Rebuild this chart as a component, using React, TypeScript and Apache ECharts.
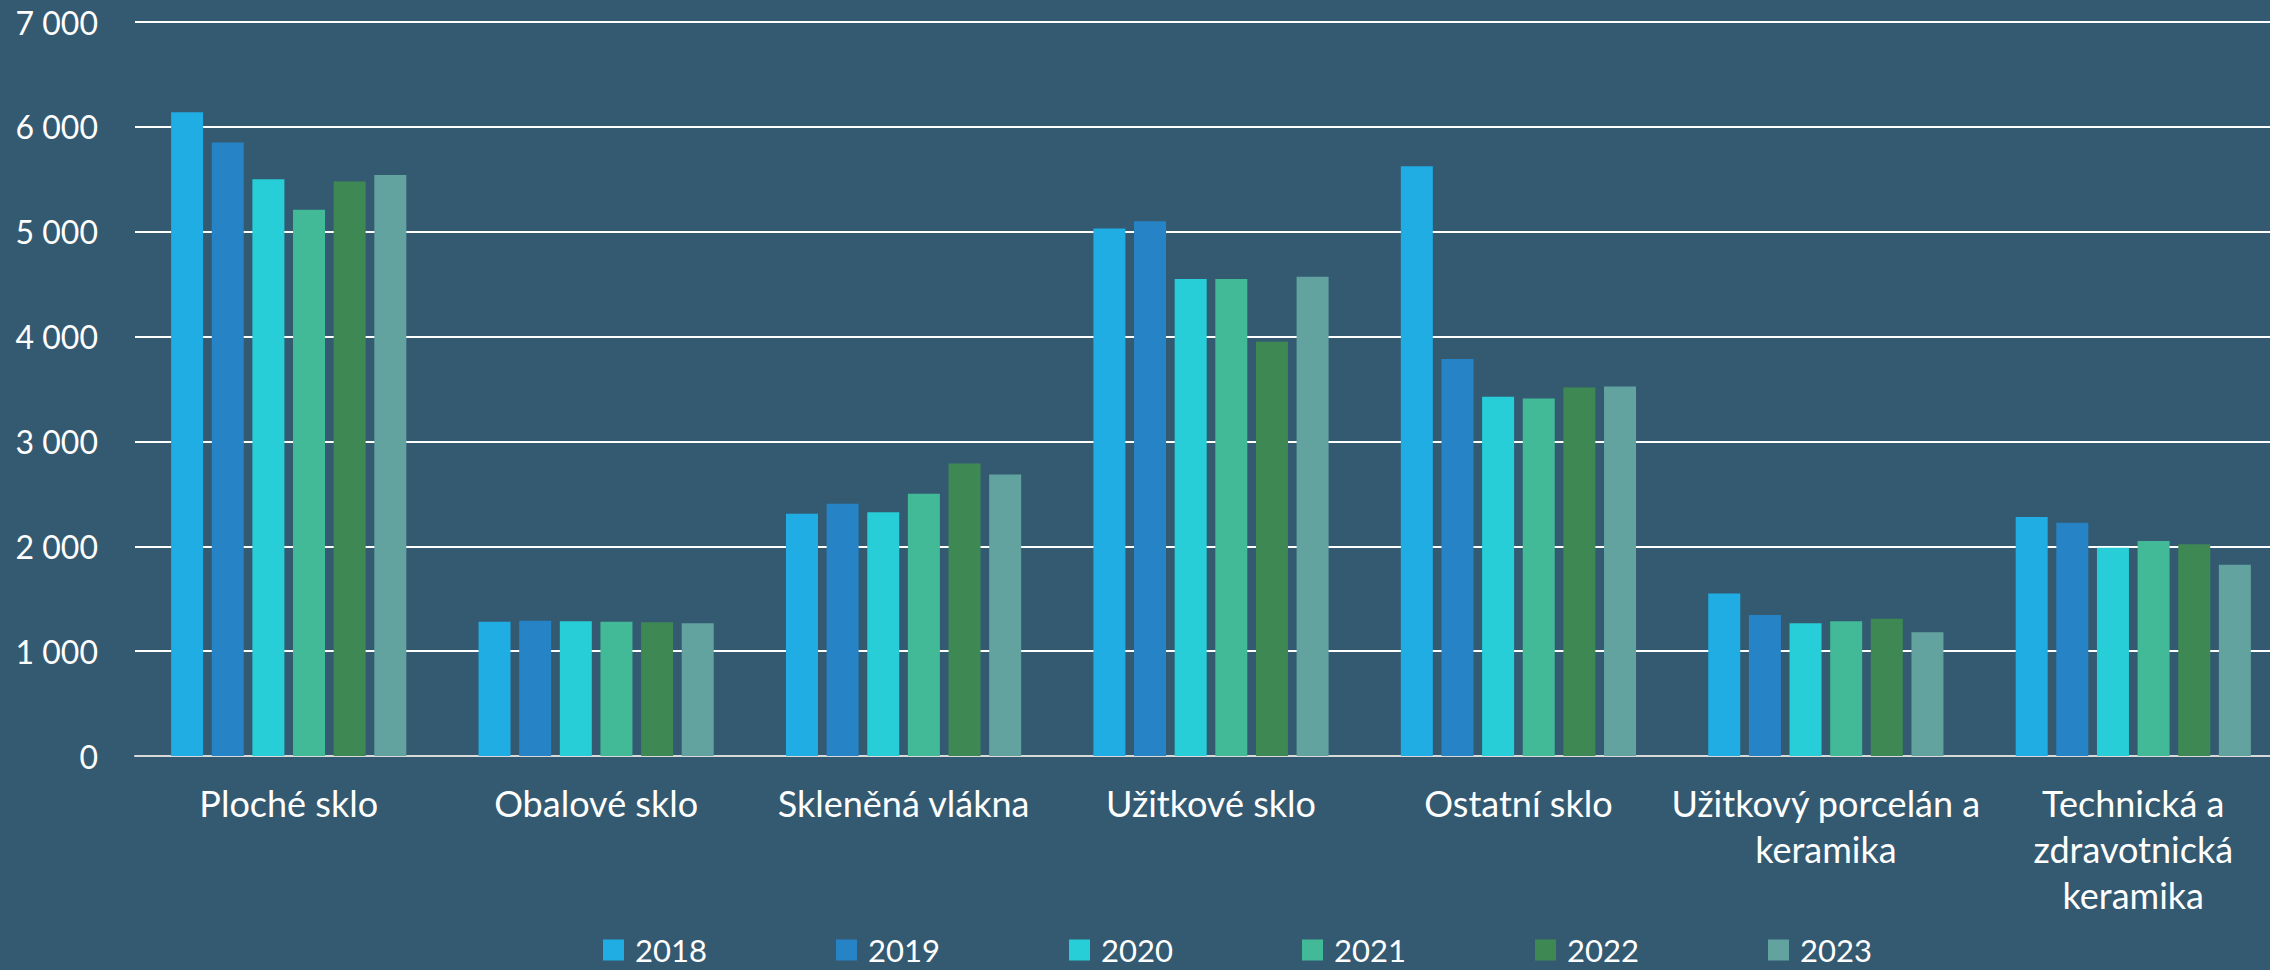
import React, { useEffect, useRef } from "react";
import * as echarts from "echarts";

const categories = [
  "Ploché sklo",
  "Obalové sklo",
  "Skleněná vlákna",
  "Užitkové sklo",
  "Ostatní sklo",
  "Užitkový porcelán a\nkeramika",
  "Technická a\nzdravotnická\nkeramika",
];

const years = ["2018", "2019", "2020", "2021", "2022", "2023"];

const v2018 = [6140, 1280, 2310, 5030, 5625, 1550, 2280];
const v2019 = [5850, 1290, 2405, 5100, 3785, 1345, 2225];
const v2020 = [5500, 1285, 2325, 4550, 3425, 1265, 1985];
const v2021 = [5210, 1280, 2500, 4550, 3410, 1285, 2050];
const v2022 = [5480, 1275, 2790, 3950, 3515, 1310, 2020];
const v2023 = [5540, 1265, 2685, 4570, 3525, 1180, 1825];

const seriesValues = [v2018, v2019, v2020, v2021, v2022, v2023];
const colors = ["#1fade4", "#2683c6", "#27ced7", "#42ba97", "#3e8853", "#62a39f"];

const yTicks = [0, 1000, 2000, 3000, 4000, 5000, 6000, 7000];

export default function App() {
  const ref = useRef<HTMLDivElement>(null);
  useEffect(() => {
    if (!ref.current) return;
    const chart = echarts.init(ref.current, undefined, { renderer: "svg" });
    chart.setOption({
      animation: false,
      backgroundColor: "#345a72",
      grid: {
        left: 135,
        width: 2152,
        top: 22,
        bottom: 214,
        containLabel: false,
        outerBoundsMode: "none",
      },
      legend: {
        left: 603,
        top: 934,
        padding: 0,
        itemWidth: 21,
        itemHeight: 21,
        itemGap: 121,
        icon: "rect",
        data: years,
        textStyle: {
          color: "#ffffff",
          fontFamily: "Lato, sans-serif",
          fontSize: 31,
          lineHeight: 32,
          width: 80,
          padding: [0, 0, 0, 6],
        },
      },
      xAxis: {
        type: "category",
        data: categories,
        axisTick: { show: false },
        axisLine: { lineStyle: { color: "#d9d9d9", width: 2 } },
        axisLabel: {
          interval: 0,
          color: "#ffffff",
          fontFamily: "Lato, sans-serif",
          fontSize: 36,
          lineHeight: 46,
          margin: 24,
        },
      },
      yAxis: {
        type: "value",
        min: yTicks[0],
        max: yTicks[yTicks.length - 1],
        interval: 1000,
        axisLine: { show: false },
        axisTick: { show: false },
        splitLine: { lineStyle: { color: "#ffffff", width: 2 } },
        axisLabel: {
          color: "#ffffff",
          fontFamily: "Lato, sans-serif",
          fontSize: 32,
          margin: 37,
          formatter: (v: number) => (v === 0 ? "0" : `${Math.floor(v / 1000)} 000`),
        },
      },
      series: years.map((y, i) => ({
        name: y,
        type: "bar",
        data: seriesValues[i],
        barWidth: 32,
        barGap: "27%",
        itemStyle: { color: colors[i] },
      })),
    });
    return () => chart.dispose();
  }, []);
  return (
    <div
      ref={ref}
      style={{ position: "fixed", left: 0, top: 0, width: 2270, height: 970 }}
    />
  );
}
